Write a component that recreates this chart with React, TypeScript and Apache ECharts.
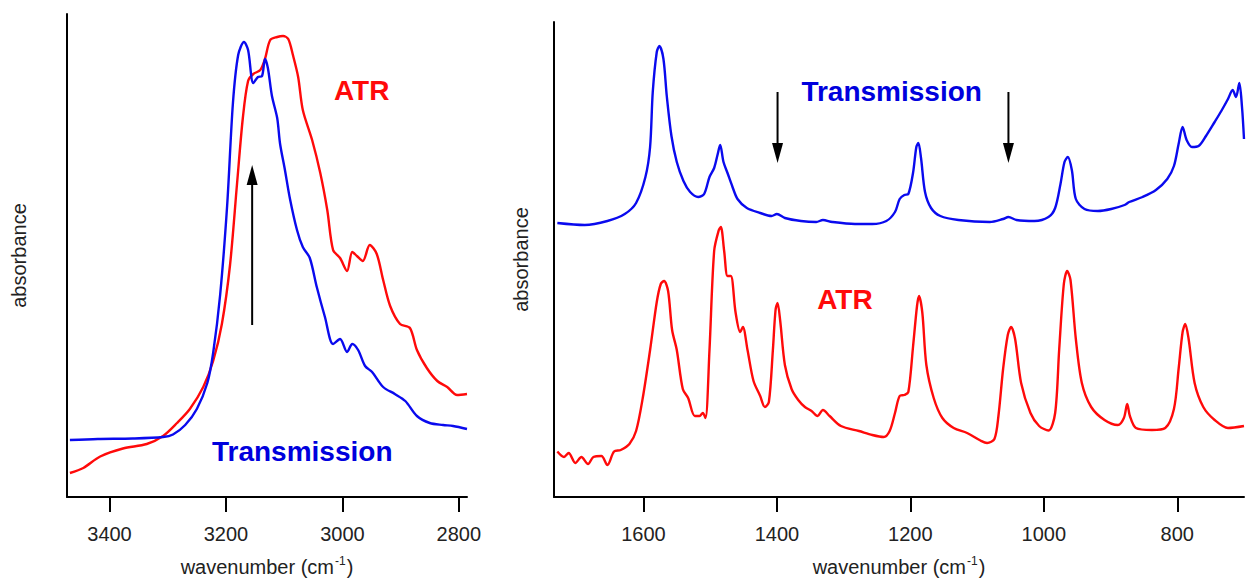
import React, { useEffect, useRef } from "react";
import * as echarts from "echarts";

const FONT = "'Liberation Sans', Arial, Helvetica, sans-serif";
const BLUE = "#0a0aee";
const RED = "#ff0a0a";

// C–H / N–H stretching region (cm-1) — transmission spectrum
const stretchTransWn = [3468, 3420, 3360, 3308, 3291, 3270, 3250, 3232, 3222, 3210, 3198, 3188, 3179, 3169, 3162, 3153, 3145, 3138, 3133, 3128, 3121, 3112, 3107, 3099, 3090, 3078, 3068, 3056, 3044, 3030, 3016, 3004, 2992, 2983, 2973, 2961, 2949, 2930, 2910, 2892, 2872, 2850, 2827, 2810, 2786];
const stretchTransAbs = [0.57, 0.58, 0.585, 0.6, 0.625, 0.72, 0.88, 1.14, 1.44, 2.02, 2.91, 3.94, 4.42, 4.55, 4.47, 4.14, 4.2, 4.21, 4.38, 4.29, 4.01, 3.79, 3.53, 3.28, 2.98, 2.67, 2.5, 2.39, 2.1, 1.8, 1.53, 1.58, 1.45, 1.53, 1.47, 1.31, 1.25, 1.1, 1.03, 0.96, 0.81, 0.74, 0.72, 0.71, 0.68];

// Stretching region — ATR spectrum
const stretchAtrWn = [3468, 3445, 3416, 3377, 3336, 3308, 3284, 3262, 3239, 3222, 3207, 3193, 3181, 3171, 3162, 3153, 3141, 3133, 3124, 3112, 3102, 3093, 3085, 3076, 3068, 3052, 3038, 3026, 3016, 3004, 2992, 2983, 2975, 2965, 2953, 2941, 2930, 2918, 2901, 2884, 2872, 2855, 2837, 2820, 2803, 2786];
const stretchAtrAbs = [0.24, 0.29, 0.405, 0.485, 0.53, 0.61, 0.74, 0.88, 1.1, 1.36, 1.73, 2.32, 3.13, 3.79, 4.16, 4.23, 4.27, 4.38, 4.57, 4.6, 4.61, 4.58, 4.42, 4.2, 3.87, 3.57, 3.24, 2.87, 2.47, 2.39, 2.26, 2.45, 2.41, 2.36, 2.52, 2.43, 2.17, 1.91, 1.73, 1.69, 1.47, 1.29, 1.16, 1.1, 1.02, 1.03];

// Fingerprint region (cm-1) — transmission spectrum
const fingerTransWn = [1729, 1688, 1654, 1628, 1611, 1597, 1590, 1586, 1580, 1576, 1570, 1565, 1558, 1550, 1540, 1530, 1518, 1509, 1501, 1494, 1489, 1485, 1480, 1474, 1467, 1459, 1445, 1425, 1408, 1400, 1388, 1364, 1341, 1331, 1317, 1283, 1257, 1236, 1223, 1216, 1209, 1203, 1196, 1191, 1188, 1184, 1178, 1169, 1155, 1128, 1081, 1061, 1053, 1041, 1014, 993, 983, 975, 969, 964, 958, 952, 939, 919, 899, 879, 872, 852, 832, 815, 805, 798, 792, 786, 778, 768, 757, 744, 734, 724, 717, 712, 707, 703, 700];
const fingerTransAbs = [2.74, 2.72, 2.76, 2.83, 2.94, 3.2, 3.5, 4.05, 4.45, 4.51, 4.38, 4.01, 3.61, 3.35, 3.16, 3.05, 3.0, 3.03, 3.2, 3.29, 3.42, 3.52, 3.35, 3.24, 3.11, 2.98, 2.89, 2.84, 2.81, 2.83, 2.79, 2.76, 2.75, 2.77, 2.75, 2.73, 2.73, 2.76, 2.85, 2.98, 3.02, 3.03, 3.24, 3.5, 3.54, 3.39, 3.05, 2.89, 2.81, 2.77, 2.75, 2.78, 2.8, 2.77, 2.76, 2.8, 2.89, 3.13, 3.35, 3.4, 3.27, 2.98, 2.88, 2.86, 2.88, 2.92, 2.95, 3.0, 3.07, 3.18, 3.31, 3.53, 3.7, 3.57, 3.5, 3.51, 3.61, 3.75, 3.86, 3.98, 4.07, 4.0, 4.14, 3.9, 3.58];

// Fingerprint region — ATR spectrum
const fingerAtrWn = [1729, 1719, 1712, 1702, 1693, 1683, 1675, 1663, 1654, 1644, 1634, 1621, 1611, 1601, 1590, 1580, 1574, 1569, 1563, 1557, 1550, 1541, 1533, 1523, 1516, 1511, 1507, 1501, 1494, 1487, 1484, 1479, 1474, 1469, 1462, 1455, 1451, 1444, 1435, 1425, 1418, 1412, 1406, 1402, 1399, 1395, 1388, 1378, 1368, 1358, 1348, 1339, 1331, 1321, 1304, 1277, 1257, 1240, 1231, 1223, 1216, 1209, 1203, 1196, 1190, 1187, 1182, 1176, 1165, 1152, 1135, 1115, 1095, 1085, 1074, 1068, 1061, 1054, 1049, 1043, 1034, 1020, 1007, 993, 983, 977, 970, 965, 960, 952, 943, 929, 909, 889, 880, 875, 871, 862, 838, 818, 805, 798, 792, 788, 783, 774, 761, 744, 724, 700];
const fingerAtrAbs = [0.455, 0.4, 0.44, 0.34, 0.4, 0.33, 0.4, 0.41, 0.32, 0.455, 0.47, 0.53, 0.66, 0.99, 1.47, 1.95, 2.13, 2.16, 2.06, 1.67, 1.47, 1.08, 0.99, 0.81, 0.81, 0.84, 0.79, 1.47, 2.46, 2.67, 2.7, 2.46, 2.21, 2.21, 1.85, 1.65, 1.7, 1.47, 1.16, 1.01, 0.9, 0.95, 1.47, 1.87, 1.94, 1.76, 1.32, 1.08, 0.97, 0.9, 0.86, 0.81, 0.87, 0.81, 0.71, 0.66, 0.62, 0.6, 0.66, 0.84, 1.01, 1.02, 1.05, 1.5, 1.91, 2.01, 1.84, 1.32, 0.99, 0.79, 0.69, 0.64, 0.565, 0.54, 0.58, 0.81, 1.28, 1.62, 1.7, 1.58, 1.14, 0.84, 0.71, 0.665, 0.84, 1.47, 2.13, 2.26, 2.17, 1.58, 1.14, 0.9, 0.77, 0.72, 0.79, 0.93, 0.81, 0.69, 0.67, 0.69, 0.88, 1.28, 1.65, 1.73, 1.58, 1.14, 0.9, 0.77, 0.69, 0.71];

const stretchTicks = [2800, 3000, 3200, 3400];
const fingerTicks = [800, 1000, 1200, 1400, 1600];

// Annotation arrows, in data coordinates of each panel
const arrows = [
  { panel: 0, wn: 3155, from: 1.72, to: 3.32 },
  { panel: 1, wn: 1399, from: 4.05, to: 3.34 },
  { panel: 1, wn: 1053, from: 4.05, to: 3.34 },
];

// Trace labels, in data coordinates of each panel
const labels = [
  { panel: 0, wn: 2967, abs: 4.07, text: "ATR", color: RED },
  { panel: 0, wn: 3069, abs: 0.46, text: "Transmission", color: "#0000dd" },
  { panel: 1, wn: 1228, abs: 4.06, text: "Transmission", color: "#0000dd" },
  { panel: 1, wn: 1298, abs: 1.98, text: "ATR", color: RED },
];

const zip = (xs: number[], ys: number[]) => xs.map((x, i) => [x, ys[i]]);

const axisName = "{n|wavenumber (cm}{s|-1}{n|)}";

function xAxisFor(grid: number, min: number, max: number, ticks: number[]) {
  return {
    type: "value",
    gridIndex: grid,
    inverse: true,
    min,
    max,
    name: axisName,
    nameLocation: "middle",
    nameGap: 58,
    nameTextStyle: {
      rich: {
        n: { fontSize: 20, fontFamily: FONT, color: "#222", lineHeight: 24 },
        s: { fontSize: 12, fontFamily: FONT, color: "#222", verticalAlign: "top", lineHeight: 12, padding: [0, 1, 0, 1] },
      },
    },
    axisLine: { show: true, onZero: false, lineStyle: { color: "#000", width: 2 } },
    axisTick: { show: true, length: 15, lineStyle: { color: "#000", width: 2 }, customValues: ticks },
    axisLabel: {
      show: true,
      margin: 27,
      fontSize: 20,
      fontFamily: FONT,
      color: "#222",
      customValues: ticks,
      formatter: (v: number) => String(v),
    },
    splitLine: { show: false },
  };
}

function yAxisFor(grid: number, max: number, gap: number) {
  return {
    type: "value",
    gridIndex: grid,
    min: 0,
    max,
    name: "absorbance",
    nameLocation: "middle",
    nameGap: gap,
    nameTextStyle: { fontSize: 20, fontFamily: FONT, color: "#222" },
    axisLine: { show: true, lineStyle: { color: "#000", width: 2 } },
    axisTick: { show: false },
    axisLabel: { show: false },
    splitLine: { show: false },
  };
}

function lineSeries(grid: number, data: number[][], color: string) {
  return {
    type: "line",
    xAxisIndex: grid,
    yAxisIndex: grid,
    data,
    showSymbol: false,
    smooth: 0.3,
    lineStyle: { color, width: 2.4 },
    z: color === BLUE ? 3 : 2,
  };
}

export default function App() {
  const ref = useRef<HTMLDivElement>(null);

  useEffect(() => {
    if (!ref.current) return;
    const chart = echarts.init(ref.current, undefined, { renderer: "svg" });
    chart.setOption({
      animation: false,
      backgroundColor: "#fff",
      grid: [
        { left: 67, top: 14, width: 400, height: 483, outerBoundsMode: "none", containLabel: false },
        { left: 554, top: 22, width: 690, height: 475, outerBoundsMode: "none", containLabel: false },
      ],
      xAxis: [xAxisFor(0, 2786, 3473, stretchTicks), xAxisFor(1, 700, 1734, fingerTicks)],
      yAxis: [yAxisFor(0, 4.83, 38), yAxisFor(1, 4.75, 23)],
      series: [
        lineSeries(0, zip(stretchAtrWn, stretchAtrAbs), RED),
        lineSeries(0, zip(stretchTransWn, stretchTransAbs), BLUE),
        lineSeries(1, zip(fingerTransWn, fingerTransAbs), BLUE),
        lineSeries(1, zip(fingerAtrWn, fingerAtrAbs), RED),
      ],
    });

    const toPx = (panel: number, wn: number, abs: number) =>
      chart.convertToPixel({ xAxisIndex: panel, yAxisIndex: panel }, [wn, abs]) as number[];

    const graphic: any[] = [];
    arrows.forEach((a) => {
      const [x, y0] = toPx(a.panel, a.wn, a.from);
      const [, y1] = toPx(a.panel, a.wn, a.to);
      const dir = y1 < y0 ? -1 : 1;
      const headLen = 20;
      const halfW = 5.5;
      const baseY = y1 - dir * headLen;
      graphic.push({
        type: "line",
        shape: { x1: x, y1: y0, x2: x, y2: baseY },
        style: { stroke: "#000", lineWidth: 2 },
      });
      graphic.push({
        type: "polygon",
        shape: { points: [[x, y1], [x - halfW, baseY], [x + halfW, baseY]] },
        style: { fill: "#000" },
      });
    });
    labels.forEach((l) => {
      const [x, y] = toPx(l.panel, l.wn, l.abs);
      graphic.push({
        type: "text",
        x,
        y,
        style: {
          text: l.text,
          fill: l.color,
          fontSize: 28,
          fontWeight: "bold",
          fontFamily: FONT,
          align: "center",
          verticalAlign: "middle",
        },
      });
    });
    chart.setOption({ graphic });

    return () => chart.dispose();
  }, []);

  return (
    <div
      ref={ref}
      style={{ position: "fixed", left: 0, top: 0, width: 1246, height: 578, background: "#fff" }}
    />
  );
}
